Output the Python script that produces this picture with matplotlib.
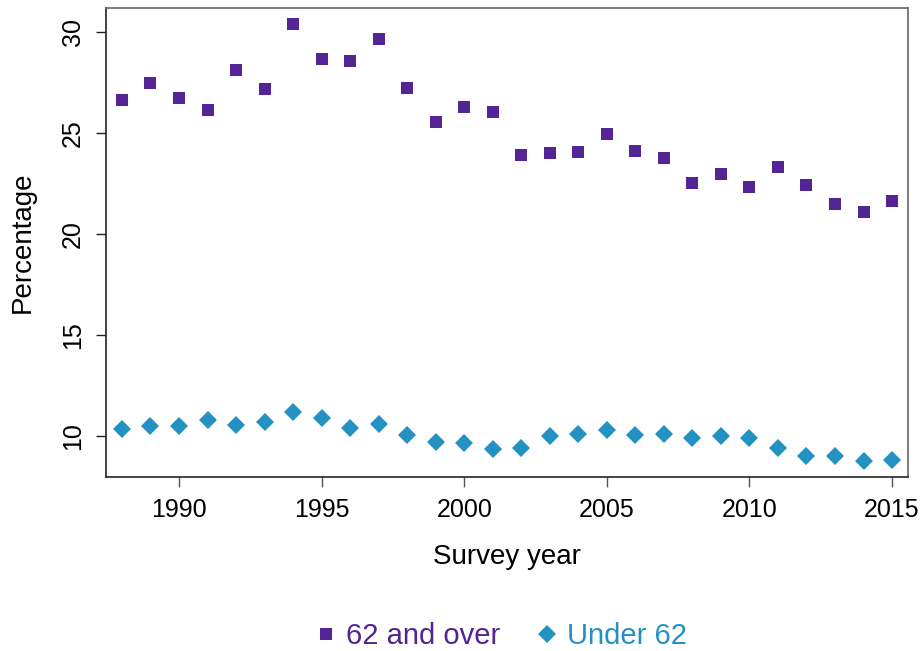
import numpy as np
import matplotlib
matplotlib.use("Agg")
import matplotlib.pyplot as plt

plt.rcParams['font.family'] = ['Liberation Sans', 'DejaVu Sans']

years = list(range(1988, 2016))
over62 = [26.63, 27.48, 26.72, 26.14, 28.10, 27.19, 30.40, 28.66, 28.55, 29.65,
          27.23, 25.53, 26.27, 26.02, 23.93, 24.01, 24.08, 24.95, 24.13, 23.75,
          22.52, 22.97, 22.34, 23.32, 22.44, 21.50, 21.07, 21.65]
under62 = [10.33, 10.50, 10.50, 10.81, 10.53, 10.69, 11.19, 10.91, 10.38, 10.58,
           10.07, 9.70, 9.64, 9.36, 9.39, 10.01, 10.11, 10.28, 10.07, 10.10,
           9.89, 10.00, 9.90, 9.39, 9.00, 9.03, 8.76, 8.83]
purple = '#522494'
blue = '#2491C3'

fig = plt.figure(figsize=(9.21, 6.51), dpi=100)
ax = fig.add_axes([0.1151, 0.2673, 0.8708, 0.7204])

ax.plot(years, over62, linestyle='none', marker='s', markersize=8,
        color=purple, markeredgewidth=0, label='62 and over')
ax.plot(years, under62, linestyle='none', marker='D', markersize=9.5,
        color=blue, markeredgewidth=0, label='Under 62')

ax.set_xlim(1987.44, 2015.56)
ax.set_ylim(7.97, 31.19)
ax.set_xticks([1990, 1995, 2000, 2005, 2010, 2015])
ax.set_yticks([10, 15, 20, 25, 30])
ax.tick_params(axis='x', length=7, width=1, color='#555555', labelsize=18, pad=8)
ax.tick_params(axis='y', length=7, width=1, color='#222222', labelsize=18, pad=8)
for lab in ax.get_yticklabels():
    lab.set_rotation(90)
    lab.set_va('center')

ax.spines['left'].set_color('#222222')
ax.spines['bottom'].set_color('#222222')
ax.spines['top'].set_color('#666666')
ax.spines['right'].set_color('#666666')
for s in ax.spines.values():
    s.set_linewidth(1.2)

ax.set_xlabel('Survey year', fontsize=20, labelpad=16)
ax.set_ylabel('Percentage', fontsize=20, labelpad=18)

fig.legend(loc='center', bbox_to_anchor=(0.542, 0.023), ncol=2, frameon=False,
           fontsize=21, labelcolor='markerfacecolor', handletextpad=0.2,
           columnspacing=1.1, handlelength=1.0, markerscale=1.0)

fig.savefig('out.png', dpi=100)
